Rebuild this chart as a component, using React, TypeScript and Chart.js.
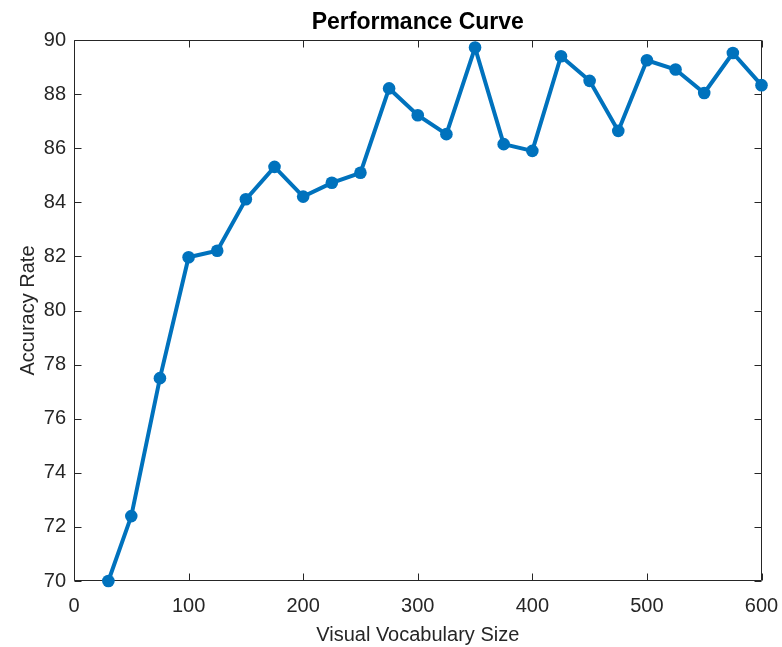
import React, { useEffect, useRef } from "react";
import { Chart, registerables } from "chart.js";

Chart.register(...registerables);

const vocabSizes = [30, 50, 75, 100, 125, 150, 175, 200, 225, 250, 275, 300, 325, 350, 375, 400, 425, 450, 475, 500, 525, 550, 575, 600];
const accuracy = [70.0, 72.4, 77.5, 81.97, 82.21, 84.11, 85.31, 84.21, 84.72, 85.09, 88.21, 87.22, 86.52, 89.72, 86.15, 85.9, 89.4, 88.49, 86.64, 89.25, 88.91, 88.04, 89.52, 88.33];
const xTicks = [0, 100, 200, 300, 400, 500, 600];
const yTicks = [70, 72, 74, 76, 78, 80, 82, 84, 86, 88, 90];

const FONT = "'Liberation Sans', Arial, Helvetica, sans-serif";
const AXIS_COLOR = "#262626";
const LINE_COLOR = "#0072BD";

const boxPlugin = {
  id: "matlabBox",
  beforeDatasetsDraw(chart: any) {
    const { ctx, chartArea, scales } = chart;
    const { left, right, top, bottom } = chartArea;
    const L = Math.round(left) + 0.5;
    const R = Math.round(right) - 0.5;
    const T = Math.round(top) + 0.5;
    const B = Math.round(bottom) - 0.5;
    const tl = 7;
    ctx.save();
    ctx.strokeStyle = AXIS_COLOR;
    ctx.lineWidth = 1;
    ctx.beginPath();
    ctx.rect(L, T, R - L, B - T);
    for (const v of xTicks) {
      const px = Math.round(scales.x.getPixelForValue(v)) + 0.5;
      ctx.moveTo(px, B);
      ctx.lineTo(px, B - tl);
      ctx.moveTo(px, T);
      ctx.lineTo(px, T + tl);
    }
    for (const v of yTicks) {
      const py = Math.round(scales.y.getPixelForValue(v)) + 0.5;
      ctx.moveTo(L, py);
      ctx.lineTo(L + tl, py);
      ctx.moveTo(R, py);
      ctx.lineTo(R - tl, py);
    }
    ctx.stroke();
    ctx.restore();
  },
};

export default function App() {
  const canvasRef = useRef<HTMLCanvasElement | null>(null);

  useEffect(() => {
    document.body.style.margin = "0";
    const canvas = canvasRef.current;
    if (!canvas) return;
    const chart = new Chart(canvas, {
      type: "line",
      data: {
        datasets: [
          {
            label: "Accuracy",
            data: vocabSizes.map((x, i) => ({ x, y: accuracy[i] })),
            borderColor: LINE_COLOR,
            backgroundColor: LINE_COLOR,
            borderWidth: 4,
            pointRadius: 6.3,
            pointBackgroundColor: LINE_COLOR,
            pointBorderColor: LINE_COLOR,
            pointBorderWidth: 0,
            tension: 0,
            clip: false as any,
          },
        ],
      },
      options: {
        animation: false,
        responsive: false,
        devicePixelRatio: 1,
        layout: { padding: { left: 0, right: 20.5, top: 0, bottom: 0 } },
        plugins: {
          legend: { display: false },
          tooltip: { enabled: false },
          title: {
            display: true,
            text: "Performance Curve",
            color: "#000000",
            fullSize: false,
            font: { family: FONT, size: 23, weight: "bold" },
            padding: { top: 9, bottom: 3.4 },
          },
        },
        scales: {
          x: {
            type: "linear",
            min: 0,
            max: 600,
            afterBuildTicks: (s: any) => {
              s.ticks = xTicks.map((v) => ({ value: v }));
            },
            afterFit: (s: any) => {
              s.height = 66;
              s.paddingLeft = 0;
              s.paddingRight = 0;
            },
            grid: { display: false, drawTicks: false },
            border: { display: false },
            ticks: {
              color: AXIS_COLOR,
              font: { family: FONT, size: 20 },
              padding: 13,
              maxRotation: 0,
            },
            title: {
              display: true,
              text: "Visual Vocabulary Size",
              color: AXIS_COLOR,
              font: { family: FONT, size: 20 },
              padding: { top: 0, bottom: 0 },
            },
          },
          y: {
            type: "linear",
            min: 70,
            max: 90,
            afterBuildTicks: (s: any) => {
              s.ticks = yTicks.map((v) => ({ value: v }));
            },
            afterFit: (s: any) => {
              s.width = 74;
              s.paddingTop = 0;
              s.paddingBottom = 0;
            },
            grid: { display: false, drawTicks: false },
            border: { display: false },
            ticks: {
              color: AXIS_COLOR,
              font: { family: FONT, size: 20 },
              padding: 8,
            },
            title: {
              display: true,
              text: "Accuracy Rate",
              color: AXIS_COLOR,
              font: { family: FONT, size: 20 },
              padding: { top: 16, bottom: 0 },
            },
          },
        },
      },
      plugins: [boxPlugin],
    } as any);
    return () => chart.destroy();
  }, []);

  return (
    <canvas
      ref={canvasRef}
      width={782}
      height={647}
      style={{ position: "absolute", left: 0, top: 0, display: "block" }}
    />
  );
}
